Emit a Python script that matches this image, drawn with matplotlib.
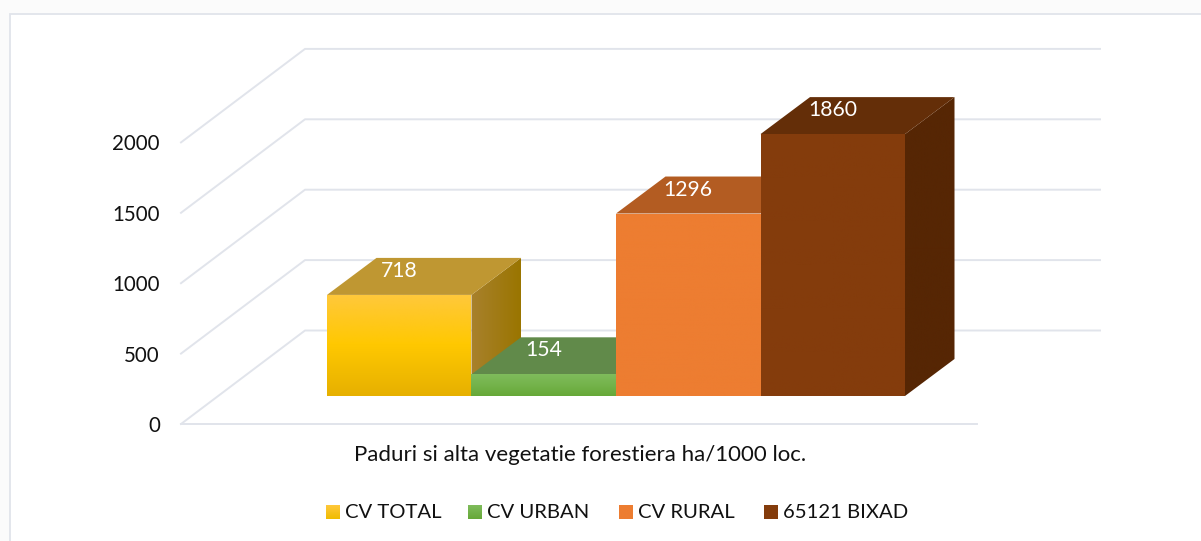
import numpy as np
import matplotlib
matplotlib.use('Agg')
import matplotlib.pyplot as plt
from matplotlib.patches import Polygon, Rectangle
from matplotlib.colors import LinearSegmentedColormap

plt.rcParams['font.family'] = ['Lato', 'DejaVu Sans']

# ========== data ==========
series = ['CV TOTAL', 'CV URBAN', 'CV RURAL', '65121 BIXAD']
values = [718, 154, 1296, 1860]
y_ticks = [0, 500, 1000, 1500, 2000]
x_label = 'Paduri si alta vegetatie forestiera ha/1000 loc.'

# ========== colours per series ==========
front_colors = [['#FFC83C', '#FFC800', '#E6B000'], ['#7FBC5C', '#74B34B', '#66A838'],
                ['#ED7D31', '#ED7D31'], ['#843C0C', '#843C0C']]
top_colors = ['#BF9732', '#618A4A', '#B35C22', '#642E08']
side_colors = [['#A8812D', '#9A7500'], ['#4E7A35', '#4E7A35'],
               ['#A85A20', '#A85A20'], ['#562604', '#562604']]
grid_color = '#E1E4EB'
legend_colors = [['#FFC83C', '#F0BC00'], ['#7FBC5C', '#66A838'], ['#ED7D31', '#ED7D31'], ['#843C0C', '#843C0C']]
legend_x = [326, 468, 619, 764]

W, H = 1201, 541
bar_w = 144.5      # pixels for one bar
x0 = 327           # left edge of first bar
y0 = 396           # pixel row of value 0 at the bars' front
scale = 0.1408     # pixels per unit
dx, dy = 49.5 / bar_w, 37 / scale  # bar depth


def X(px):
    return (px - x0) / bar_w


def V(py):
    return (y0 - py) / scale


fig = plt.figure(figsize=(W / 100, H / 100), dpi=100, facecolor='#FBFBFB')
ax = fig.add_axes([0, 0, 1, 1])
ax.axis('off')

# chart area with its frame
ax.add_patch(Rectangle((X(10.5), V(560)), X(1300) - X(10.5), V(14.5) - V(560),
                       facecolor='white', edgecolor=grid_color, linewidth=1.3, zorder=0))


def shade(poly, colors, vertical=True, zorder=3):
    poly = np.array(poly)
    cmap = LinearSegmentedColormap.from_list('c', colors)
    if vertical:
        grad = np.linspace(0, 1, 256).reshape(-1, 1)
    else:
        grad = np.linspace(0, 1, 256).reshape(1, -1)
    im = ax.imshow(grad, cmap=cmap, aspect='auto', zorder=zorder,
                   extent=[poly[:, 0].min(), poly[:, 0].max(), poly[:, 1].min(), poly[:, 1].max()],
                   origin='upper')
    patch = Polygon(poly, closed=True, transform=ax.transData, facecolor='none', edgecolor='none')
    ax.add_patch(patch)
    im.set_clip_path(patch)


# ========== walls and gridlines ==========
v_front = V(424)
for t in y_ticks:
    yf = v_front + t
    yb = V(330.5) + t
    ax.plot([X(181), X(305), X(1100)], [yf, yb, yb], color=grid_color, lw=1.4, zorder=1)
    ax.text(X(160), yf - 2 / scale, str(t), ha='right', va='center', fontsize=14.8, color='#111111')
ax.plot([X(181), X(977)], [v_front, v_front], color=grid_color, lw=1.4, zorder=1)

# ========== 3D bars ==========
for i, v in enumerate(values):
    z = 3 + i
    shade([(i + 1, 0), (i + 1 + dx, dy), (i + 1 + dx, v + dy), (i + 1, v)], side_colors[i], vertical=False, zorder=z)
    ax.add_patch(Polygon([(i, v), (i + dx, v + dy), (i + 1 + dx, v + dy), (i + 1, v)],
                         facecolor=top_colors[i], edgecolor='none', zorder=z))
    shade([(i, 0), (i + 1, 0), (i + 1, v), (i, v)], front_colors[i], zorder=z + 0.5)

for i, v in enumerate(values):
    ax.text(i + 0.5, v + 24 / scale, str(v), ha='center', va='center',
            fontsize=15.2, color='white', zorder=10)

# ========== axis title and legend ==========
ax.text(X(580), V(455), x_label, ha='center', va='center', fontsize=16, color='#111111')
for name, lx, c in zip(series, legend_x, legend_colors):
    shade([(X(lx), V(505)), (X(lx + 14), V(505)), (X(lx + 14), V(519)), (X(lx), V(519))], c, zorder=5)
    ax.text(X(lx + 19), V(513), name, ha='left', va='center', fontsize=14.6, color='#111111')

ax.set_xlim(X(0), X(W))
ax.set_ylim(V(H), V(0))
fig.savefig('out.png', dpi=100, facecolor=fig.get_facecolor())
